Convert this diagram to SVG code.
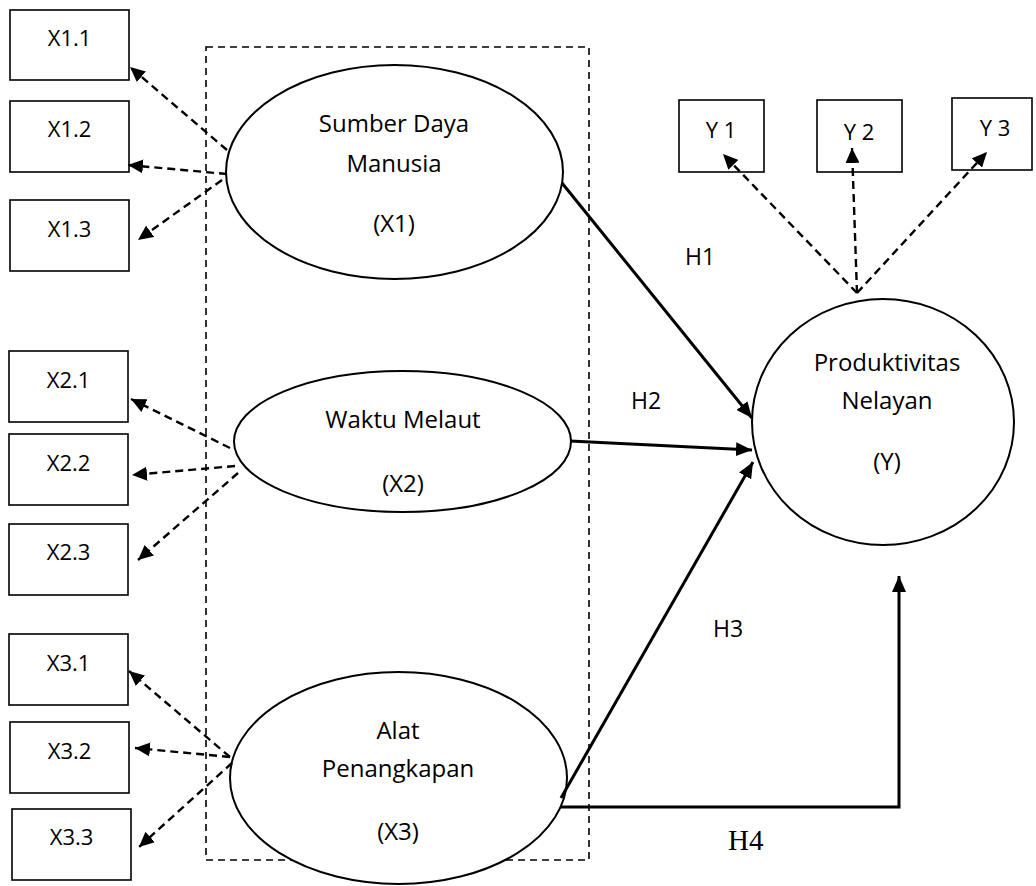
<svg xmlns="http://www.w3.org/2000/svg" width="1036" height="886" viewBox="0 0 1036 886">
<style>
.box{fill:#fff;stroke:#000;stroke-width:1.6}
.node{fill:#fff;stroke:#000;stroke-width:2}
.lbl{font-family:"Open Sans","Liberation Sans",sans-serif;font-size:22px;fill:#000;text-anchor:middle}
.nl{font-family:"Open Sans","Liberation Sans",sans-serif;font-size:24px;fill:#000;text-anchor:middle}
.h{font-family:"Open Sans","Liberation Sans",sans-serif;font-size:23px;fill:#000}
.h4{font-family:"Liberation Serif","Times New Roman",serif;font-size:29px;fill:#000}
.dash{fill:none;stroke:#000;stroke-width:2.4;stroke-dasharray:8,5;marker-end:url(#ad)}
.solid{fill:none;stroke:#000;stroke-width:3;marker-end:url(#as)}
</style>
<defs>
<marker id="ad" markerUnits="userSpaceOnUse" markerWidth="16" markerHeight="14" refX="15" refY="7" orient="auto"><path d="M0,0 L15,7 L0,14 z" fill="#000"/></marker>
<marker id="as" markerUnits="userSpaceOnUse" markerWidth="17" markerHeight="14" refX="16" refY="7" orient="auto"><path d="M0,0 L16,7 L0,14 z" fill="#000"/></marker>
</defs>
<rect width="1036" height="886" fill="#fff"/>
<rect id="group-box" x="206" y="47" width="383" height="813" fill="none" stroke="#000" stroke-width="1.6" stroke-dasharray="7,5"/>

<g id="x1-1"><rect class="box" x="10" y="10" width="119" height="70"/><text class="lbl" x="69.5" y="46">X1.1</text></g>
<g id="x1-2"><rect class="box" x="10" y="101" width="119" height="71"/><text class="lbl" x="69.5" y="137">X1.2</text></g>
<g id="x1-3"><rect class="box" x="10" y="200" width="119" height="71"/><text class="lbl" x="69.5" y="237">X1.3</text></g>
<g id="x2-1"><rect class="box" x="9" y="351" width="119" height="71"/><text class="lbl" x="68.5" y="388">X2.1</text></g>
<g id="x2-2"><rect class="box" x="9" y="434" width="119" height="71"/><text class="lbl" x="68.5" y="471">X2.2</text></g>
<g id="x2-3"><rect class="box" x="9" y="524" width="119" height="71"/><text class="lbl" x="68.5" y="560">X2.3</text></g>
<g id="x3-1"><rect class="box" x="9" y="634" width="119" height="71"/><text class="lbl" x="68.5" y="671">X3.1</text></g>
<g id="x3-2"><rect class="box" x="10" y="722" width="119" height="71"/><text class="lbl" x="69.5" y="759">X3.2</text></g>
<g id="x3-3"><rect class="box" x="12" y="809" width="119" height="71"/><text class="lbl" x="71.5" y="845">X3.3</text></g>

<g id="y1"><rect class="box" x="679" y="100" width="85" height="72"/><text class="lbl" x="721" y="138">Y 1</text></g>
<g id="y2"><rect class="box" x="817" y="100" width="85" height="72"/><text class="lbl" x="859" y="140">Y 2</text></g>
<g id="y3"><rect class="box" x="952" y="98" width="80" height="72"/><text class="lbl" x="995" y="136">Y 3</text></g>

<g id="sdm"><ellipse class="node" cx="394.5" cy="172" rx="168.5" ry="107"/>
<text class="nl" x="394" y="132">Sumber Daya</text><text class="nl" x="394" y="172">Manusia</text><text class="nl" x="394" y="232">(X1)</text></g>
<g id="waktu"><ellipse class="node" cx="402.5" cy="441.5" rx="168.5" ry="70.5"/>
<text class="nl" x="403" y="428">Waktu Melaut</text><text class="nl" x="403" y="492">(X2)</text></g>
<g id="alat"><ellipse class="node" cx="398.5" cy="778" rx="168.5" ry="106"/>
<text class="nl" x="398" y="739">Alat</text><text class="nl" x="398" y="777">Penangkapan</text><text class="nl" x="398" y="840">(X3)</text></g>
<g id="prod"><ellipse class="node" cx="883" cy="422" rx="131" ry="123"/>
<text class="nl" x="887" y="371">Produktivitas</text><text class="nl" x="887" y="409">Nelayan</text><text class="nl" x="887" y="470">(Y)</text></g>

<g id="connectors">
<line class="dash" x1="227" y1="150" x2="130" y2="67"/>
<line class="dash" x1="227" y1="174" x2="128" y2="165"/>
<line class="dash" x1="222" y1="180" x2="138" y2="240"/>
<line class="dash" x1="230" y1="448" x2="131" y2="399"/>
<line class="dash" x1="235" y1="466" x2="132" y2="475"/>
<line class="dash" x1="238" y1="473" x2="138" y2="560"/>
<line class="dash" x1="230" y1="757" x2="129" y2="671"/>
<line class="dash" x1="230" y1="757" x2="135" y2="748"/>
<line class="dash" x1="232" y1="763" x2="139" y2="847"/>
<line class="dash" x1="857" y1="293" x2="723" y2="154"/>
<line class="dash" x1="857" y1="293" x2="852" y2="148"/>
<line class="dash" x1="857" y1="293" x2="987" y2="152"/>
<line class="solid" x1="562" y1="183" x2="752" y2="418"/>
<line class="solid" x1="570" y1="441" x2="752" y2="450"/>
<line class="solid" x1="561" y1="798" x2="753" y2="462"/>
<polyline class="solid" points="561,807 899,807 899,576"/>
</g>
<g id="labels">
<text class="h" x="685" y="265">H1</text>
<text class="h" x="631" y="409">H2</text>
<text class="h" x="713" y="637">H3</text>
<text class="h4" x="728" y="850">H4</text>
</g>
</svg>
